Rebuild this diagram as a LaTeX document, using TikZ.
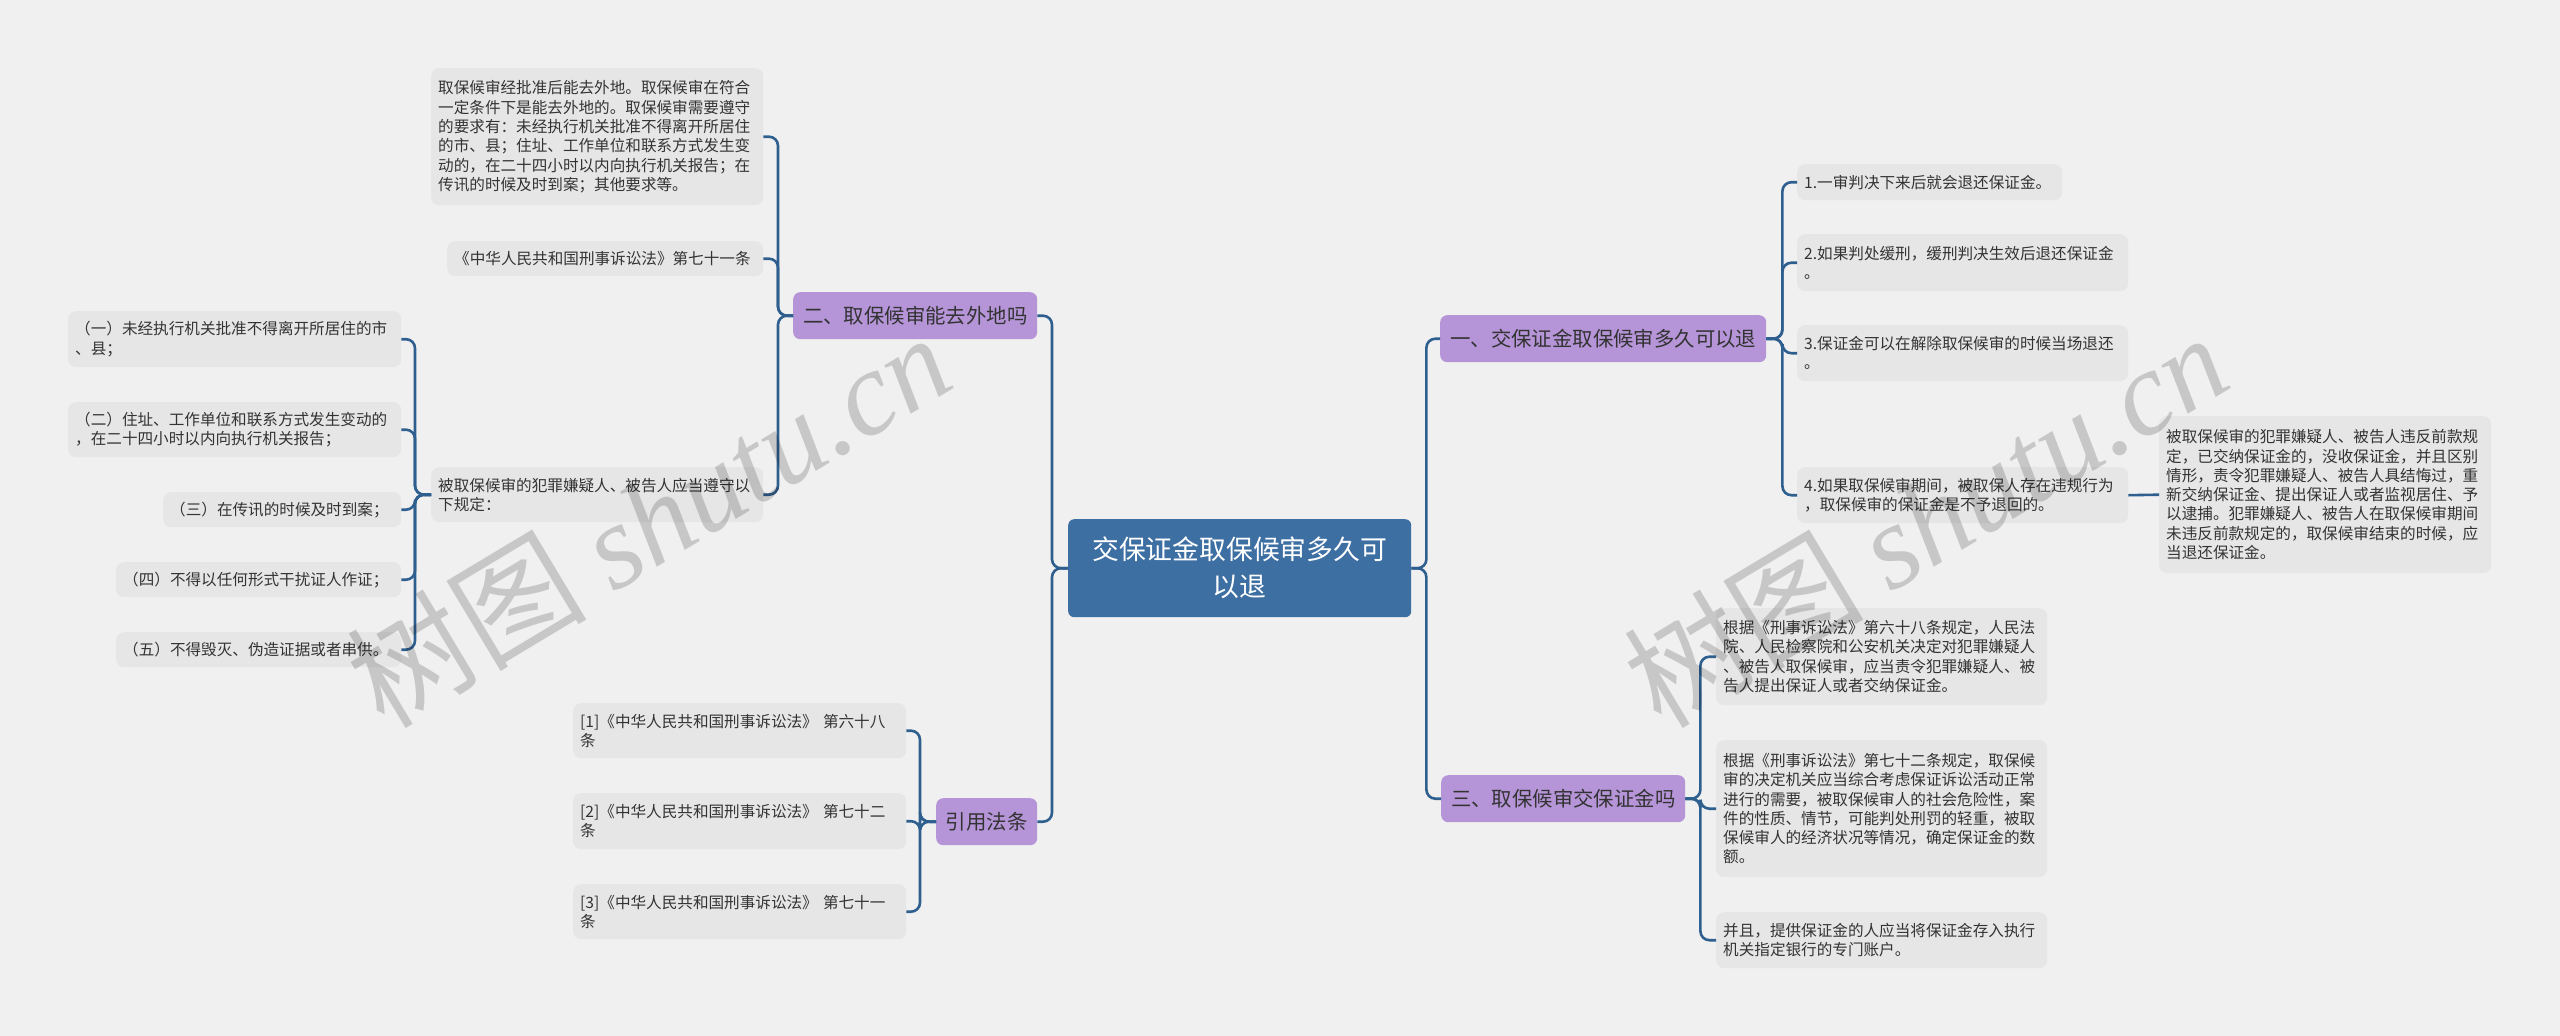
\documentclass[tikz,border=0pt]{standalone}
\usepackage{fontspec}
\setmainfont{Noto Sans CJK SC}
\newfontfamily\wmlatin{Liberation Serif}
\usetikzlibrary{calc}
\definecolor{bgc}{HTML}{F0F0F0}
\definecolor{leafc}{HTML}{E6E6E6}
\definecolor{purp}{HTML}{B594D7}
\definecolor{ctr}{HTML}{3D6FA3}
\definecolor{linec}{HTML}{2E5F8E}
\definecolor{txt}{HTML}{333333}
\newcommand\leafnode[6]{%
  \pgfmathsetmacro\lfw{#4-#2}\pgfmathsetmacro\lfh{#5-#3}\pgfmathsetmacro\lftw{#4-#2-14}%
  \node[leaf, minimum width=\lfw pt, minimum height=\lfh pt, text width=\lftw pt, anchor=north west] (#1) at (#2,#3) {#6};}
\newcommand\boxnode[7]{%
  \pgfmathsetmacro\bxw{#5-#3}\pgfmathsetmacro\bxh{#6-#4}%
  \node[#1, minimum width=\bxw pt, minimum height=\bxh pt, anchor=north west] (#2) at (#3,#4) {#7};}
\tikzset{
  leaf/.style={fill=leafc, rounded corners=8pt, inner xsep=7pt, inner ysep=0pt, align=left, text=txt, font=\fontsize{15.6}{19.3}\selectfont},
  branch/.style={fill=purp, rounded corners=7pt, inner sep=0pt, align=center, text=txt, font=\fontsize{20.4}{26}\selectfont},
  central/.style={fill=ctr, rounded corners=6pt, inner sep=0pt, align=center, text=white, font=\fontsize{26.8}{37}\selectfont},
  conn/.style={draw=linec, line width=2.6pt, rounded corners=9pt},
  wm/.style={text=black, opacity=0.17, font=\fontsize{120}{140}\selectfont}
}
\begin{document}
\begin{tikzpicture}[x=1pt,y=-1pt]
\fill[bgc] (0,0) rectangle (2560,1036);
\useasboundingbox (0,0) rectangle (2560,1036);

% central and branches
\boxnode{central}{root}{1068}{519}{1411}{617}{交保证金取保候审多久可\\以退}
\boxnode{branch}{b2}{793}{292}{1037}{339}{二、取保候审能去外地吗}
\boxnode{branch}{b4}{936}{798}{1037}{845}{引用法条}
\boxnode{branch}{b1}{1440}{315}{1766}{362}{一、交保证金取保候审多久可以退}
\boxnode{branch}{b3}{1441}{775}{1685}{822}{三、取保候审交保证金吗}

% left: branch 2 leaves
\leafnode{lpara}{431}{68}{763}{205}{取保候审经批准后能去外地。取保候审在符合\\一定条件下是能去外地的。取保候审需要遵守\\的要求有：未经执行机关批准不得离开所居住\\的市、县；住址、工作单位和联系方式发生变\\动的，在二十四小时以内向执行机关报告；在\\传讯的时候及时到案；其他要求等。}
\leafnode{llaw}{447}{241}{763}{276}{《中华人民共和国刑事诉讼法》第七十一条}
\leafnode{lrules}{431}{467}{763}{522}{被取保候审的犯罪嫌疑人、被告人应当遵守以\\下规定：}
\leafnode{ls1}{68}{311}{401}{367}{（一）未经执行机关批准不得离开所居住的市\\、县；}
\leafnode{ls2}{68}{402}{401}{457}{（二）住址、工作单位和联系方式发生变动的\\，在二十四小时以内向执行机关报告；}
\leafnode{ls3}{163}{492}{401}{527}{（三）在传讯的时候及时到案；}
\leafnode{ls4}{116}{562}{401}{597}{（四）不得以任何形式干扰证人作证；}
\leafnode{ls5}{116}{632}{401}{667}{（五）不得毁灭、伪造证据或者串供。}

% left: references
\leafnode{lr1}{573}{703}{906}{758}{[1]《中华人民共和国刑事诉讼法》 第六十八\\条}
\leafnode{lr2}{573}{793}{906}{849}{[2]《中华人民共和国刑事诉讼法》 第七十二\\条}
\leafnode{lr3}{573}{884}{906}{939}{[3]《中华人民共和国刑事诉讼法》 第七十一\\条}

% right: branch 1 leaves
\leafnode{ra1}{1797}{164}{2062}{200}{1.一审判决下来后就会退还保证金。}
\leafnode{ra2}{1797}{234}{2128}{291}{2.如果判处缓刑，缓刑判决生效后退还保证金\\。}
\leafnode{ra3}{1797}{325}{2128}{381}{3.保证金可以在解除取保候审的时候当场退还\\。}
\leafnode{ra4}{1797}{467}{2128}{523}{4.如果取保候审期间，被取保人存在违规行为\\，取保候审的保证金是不予退回的。}
\leafnode{ra4c}{2159}{416}{2491}{573}{被取保候审的犯罪嫌疑人、被告人违反前款规\\定，已交纳保证金的，没收保证金，并且区别\\情形，责令犯罪嫌疑人、被告人具结悔过，重\\新交纳保证金、提出保证人或者监视居住、予\\以逮捕。犯罪嫌疑人、被告人在取保候审期间\\未违反前款规定的，取保候审结束的时候，应\\当退还保证金。}

% right: branch 3 leaves
\leafnode{rc1}{1716}{608}{2047}{705}{根据《刑事诉讼法》第六十八条规定，人民法\\院、人民检察院和公安机关决定对犯罪嫌疑人\\、被告人取保候审，应当责令犯罪嫌疑人、被\\告人提出保证人或者交纳保证金。}
\leafnode{rc2}{1716}{740}{2047}{877}{根据《刑事诉讼法》第七十二条规定，取保候\\审的决定机关应当综合考虑保证诉讼活动正常\\进行的需要，被取保候审人的社会危险性，案\\件的性质、情节，可能判处刑罚的轻重，被取\\保候审人的经济状况等情况，确定保证金的数\\额。}
\leafnode{rc3}{1716}{912}{2047}{968}{并且，提供保证金的人应当将保证金存入执行\\机关指定银行的专门账户。}

% connectors
\foreach \c in {b2,b4} \draw[conn] (root.west) -- ++(-16,0) |- (\c.east);
\foreach \c in {b1,b3} \draw[conn] (root.east) -- ++(15,0) |- (\c.west);
\foreach \c in {lpara,llaw,lrules} \draw[conn] (b2.west) -- ++(-15,0) |- (\c.east);
\foreach \c in {ls1,ls2,ls3,ls4,ls5} \draw[conn] (lrules.west) -- ++(-16,0) |- (\c.east);
\foreach \c in {lr1,lr2,lr3} \draw[conn] (b4.west) -- ++(-16,0) |- (\c.east);
\foreach \c in {ra1,ra2,ra3,ra4} \draw[conn] (b1.east) -- ++(16,0) |- (\c.west);
\draw[conn] (ra4.east) -- (ra4c.west);
\foreach \c in {rc1,rc2,rc3} \draw[conn] (b3.east) -- ++(15,0) |- (\c.west);

% watermarks
\node[wm, rotate=31] (wmL) at (648,519) {树图 {\wmlatin\itshape shutu.cn}};
\node[wm, rotate=31] (wmR) at (1925,519) {树图 {\wmlatin\itshape shutu.cn}};
\end{tikzpicture}
\end{document}
